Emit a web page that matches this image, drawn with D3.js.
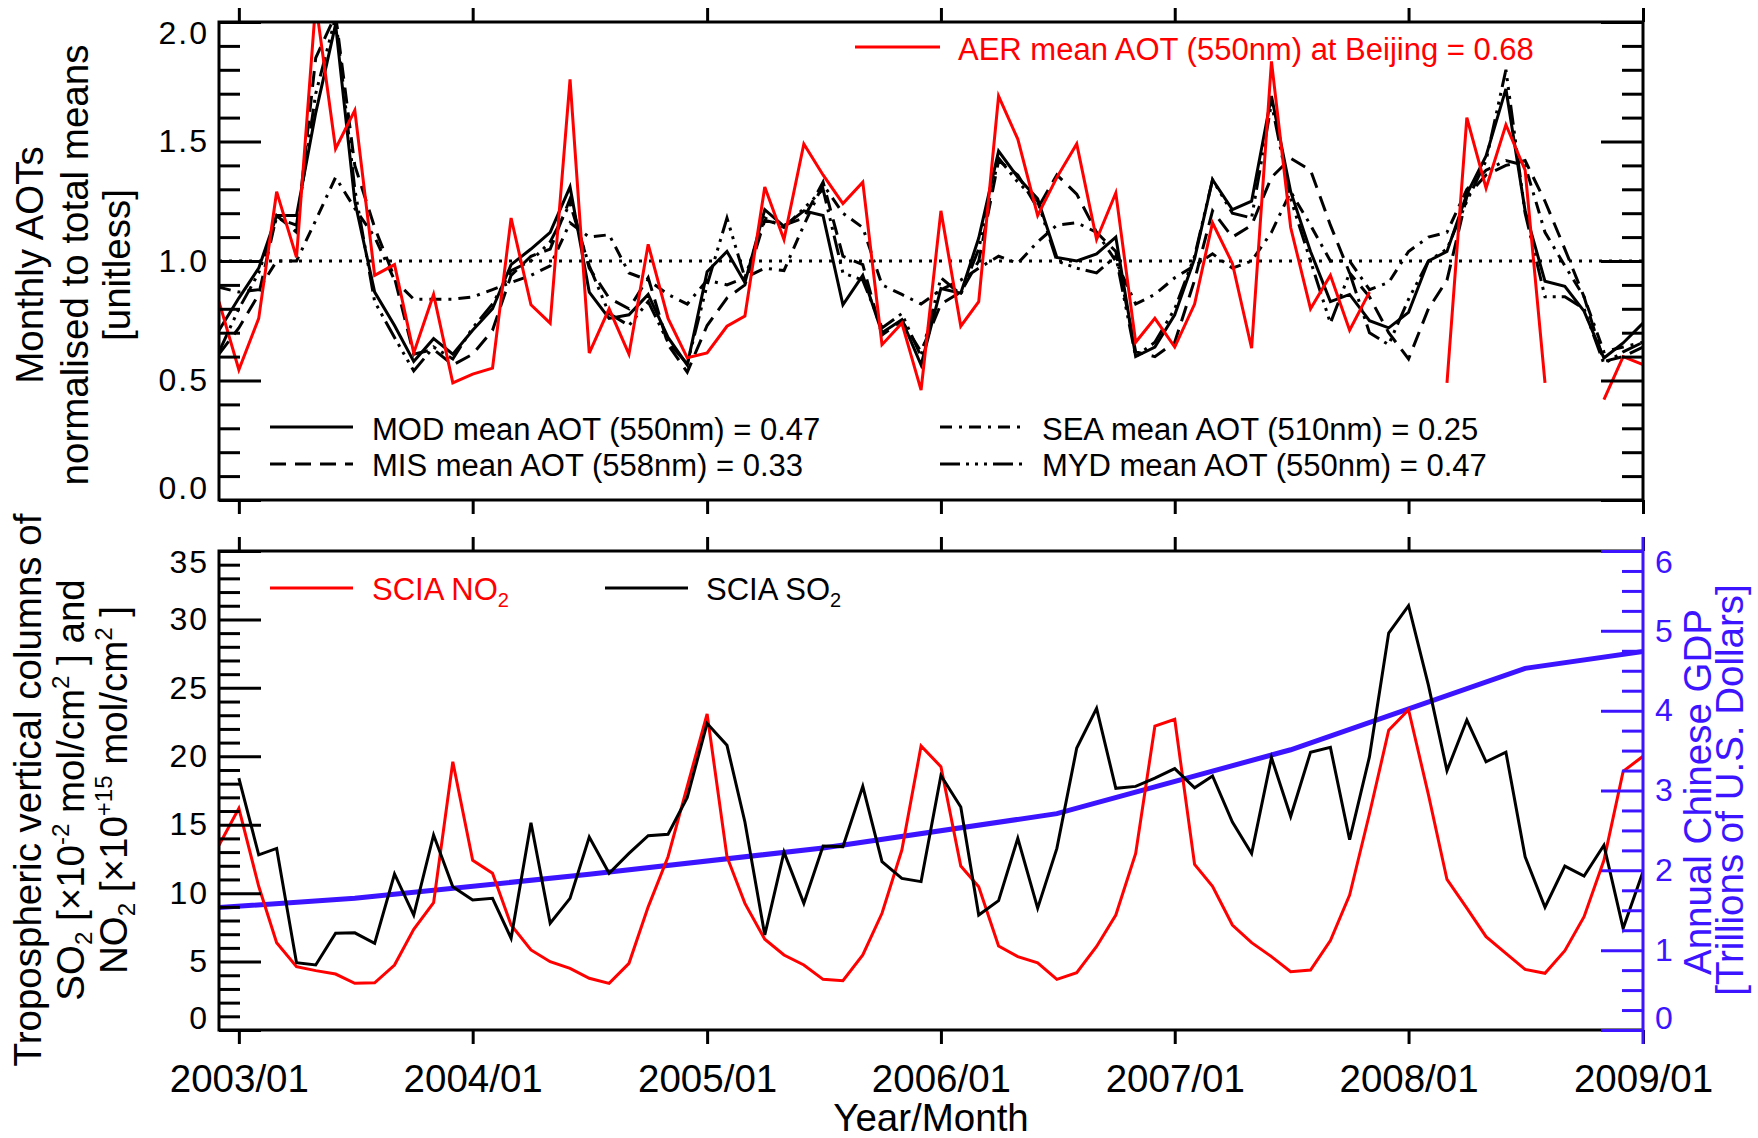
<!DOCTYPE html>
<html>
<head>
<meta charset="utf-8">
<script src="https://cdn.jsdelivr.net/npm/d3@7"></script>
<style>
  body { margin: 0; background: #fff; }
  svg { font-family: "Liberation Sans", Arial, Helvetica, sans-serif; }
</style>
</head>
<body>
<svg width="1758" height="1138"></svg>
<script>
// monthly values, 2002/12 .. 2009/01 (74 months)
let months = d3.timeMonth.range(new Date(2002, 11, 1), new Date(2009, 1, 1));

// top panel: monthly AOT normalised to the total mean
let modAot = [0.71, 0.845, 0.97, 1.19, 1.19, 1.62, 1.99, 1.25, 0.87, 0.73, 0.58, 0.675, 0.61, 0.71, 0.80, 0.985, 1.05, 1.12, 1.31,
  0.87, 0.76, 0.775, 0.86, 0.68, 0.565, 0.955, 1.04, 0.91, 1.215, 1.145, 1.21, 1.19, 0.817, 0.94, 0.70, 0.754, 0.565,
  0.885, 0.865, 1.096, 1.46, 1.35, 1.26, 1.015, 1.00, 1.03, 1.10, 0.60, 0.64, 0.775, 1.01, 1.34, 1.215, 1.25, 1.69,
  1.29, 1.04, 0.83, 0.86, 0.75, 0.72, 0.785, 1.00, 1.04, 1.28, 1.44, 1.72, 1.21, 0.915, 0.894, 0.79, 0.594, 0.657, 0.74];
let misAot = [0.61, 0.72, 0.86, 1.19, 1.12, 1.85, 2.03, 1.40, 1.14, 0.93, 0.61, 0.63, 0.565, 0.61, 0.71, 0.94, 1.02, 1.05, 1.26,
  0.97, 0.845, 0.80, 0.93, 0.65, 0.535, 0.73, 0.845, 0.90, 1.17, 1.15, 1.18, 1.33, 1.02, 0.985, 0.69, 0.75, 0.62,
  0.82, 0.87, 1.00, 1.42, 1.36, 1.22, 1.36, 1.28, 1.12, 1.04, 0.62, 0.60, 0.66, 0.92, 1.21, 1.10, 1.15, 1.35,
  1.43, 1.38, 1.15, 0.95, 0.85, 0.70, 0.59, 0.80, 0.92, 1.27, 1.36, 1.40, 1.42, 1.25, 1.05, 0.85, 0.58, 0.60, 0.64];
let seaAot = [0.89, 0.87, 0.88, 1.00, 1.00, 1.17, 1.35, 1.22, 1.10, 0.92, 0.84, 0.84, 0.84, 0.85, 0.88, 0.91, 0.94, 0.98, 1.16,
  1.10, 1.11, 0.95, 0.92, 0.86, 0.82, 0.92, 0.90, 0.93, 0.97, 0.96, 1.15, 1.32, 1.20, 1.14, 0.90, 0.86, 0.82,
  0.88, 0.92, 0.97, 1.02, 0.99, 1.08, 1.15, 1.16, 1.12, 1.00, 0.82, 0.86, 0.93, 0.98, 1.03, 0.97, 1.00, 1.12,
  1.29, 1.15, 1.00, 1.00, 0.88, 0.91, 1.04, 1.10, 1.12, 1.30, 1.38, 1.42, 1.40, 1.12, 0.98, 0.85, 0.62, 0.64, 0.66];
let mydAot = [0.62, 0.80, 0.95, 1.18, 1.15, 1.70, 2.02, 1.30, 0.83, 0.68, 0.54, 0.64, 0.59, 0.72, 0.82, 0.96, 1.00, 1.08, 1.24,
  0.98, 0.78, 0.73, 0.83, 0.66, 0.57, 0.90, 1.18, 0.93, 1.18, 1.14, 1.22, 1.30, 0.95, 0.92, 0.72, 0.78, 0.60,
  0.93, 0.86, 1.05, 1.43, 1.33, 1.25, 1.00, 0.97, 0.95, 1.02, 0.60, 0.66, 0.80, 1.02, 1.34, 1.20, 1.18, 1.66,
  1.26, 1.00, 0.74, 0.95, 0.70, 0.65, 0.84, 1.00, 1.05, 1.25, 1.42, 1.80, 1.20, 0.85, 0.85, 0.80, 0.57, 0.62, 0.66];
let aerAot = [0.83, 0.545, 0.76, 1.29, 1.015, 2.08, 1.47, 1.63, 0.94, 0.985, 0.615, 0.86, 0.49, 0.527, 0.552, 1.18, 0.817, 0.74, 1.76,
  0.615, 0.80, 0.61, 1.07, 0.76, 0.595, 0.615, 0.727, 0.77, 1.31, 1.09, 1.49, 1.36, 1.24, 1.33, 0.65, 0.74, 0.46,
  1.21, 0.727, 0.83, 1.69, 1.51, 1.19, 1.35, 1.49, 1.09, 1.285, 0.66, 0.76, 0.64, 0.82, 1.16, 0.99, 0.635, 1.835,
  1.14, 0.80, 0.94, 0.71, 0.87, null, null, null, 0.49, 1.60, 1.305, 1.57, 1.38, 0.49, null, null, 0.42, 0.60, 0.566];

// bottom panel: SCIAMACHY columns
let sciaNo2 = [13.5, 16.2, 10.5, 6.38, 4.63, 4.34, 4.09, 3.41, 3.45, 4.75, 7.36, 9.3, 19.6, 12.4, 11.45, 7.67, 5.85, 4.99, 4.5,
  3.78, 3.41, 4.87, 9.0, 12.66, 17.8, 23.1, 12.66, 9.25, 6.63, 5.48, 4.75, 3.7, 3.6, 5.48, 8.53, 13.15, 20.75,
  19.24, 11.98, 10.47, 6.14, 5.36, 4.9, 3.7, 4.19, 6.1, 8.4, 12.9, 22.2, 22.7, 12.1, 10.5, 7.67, 6.38, 5.36,
  4.26, 4.38, 6.53, 9.86, 15.8, 21.9, 23.4, 17.2, 11.0, 8.9, 6.82, 5.6, 4.43, 4.14, 5.8, 8.28, 12.4, 18.9, 20.0];
let sciaSo2 = [null, 18.4, 12.8, 13.27, 4.92, 4.75, 7.07, 7.1, 6.33, 11.4, 8.4, 14.25, 10.47, 9.5, 9.62, 6.7, 15.15, 7.8, 9.62,
  14.1, 11.45, 12.9, 14.2, 14.3, 17.0, 22.4, 20.8, 15.2, 6.94, 13.0, 9.25, 13.44, 13.4, 17.8, 12.3, 11.08, 10.84,
  18.6, 16.3, 8.4, 9.45, 14.0, 8.9, 13.27, 20.6, 23.5, 17.66, 17.8, 18.4, 19.1, 17.7, 18.56, 15.2, 12.9, 19.9,
  15.6, 20.3, 20.65, 13.9, 19.97, 29.0, 31.0, 25.2, 18.95, 22.65, 19.6, 20.3, 12.66, 8.97, 11.98, 11.25, 13.5, 7.43, 11.57];

// annual GDP (trillions of US dollars), placed at mid-year
let gdpYears = [2002, 2003, 2004, 2005, 2006, 2007, 2008, 2009];
let gdpValues = [1.45, 1.65, 1.95, 2.28, 2.71, 3.51, 4.53, 4.95];

let yearTicks = [2003, 2004, 2005, 2006, 2007, 2008, 2009];

let svg = d3.select("svg");
let left = 219, right = 1643;
let top1 = 22, bottom1 = 500, top2 = 551, bottom2 = 1030;
let blue = "#3c14ff";
let font = '"Liberation Sans", Arial, Helvetica, sans-serif';

let x = d3.scaleTime()
    .domain([new Date(2002, 11, 1), new Date(2009, 0, 1)])
    .range([left, right]);
let yAot = d3.scaleLinear().domain([0, 2]).range([bottom1, top1]);
let yCol = d3.scaleLinear().domain([0, 35]).range([bottom2, top2]);
let yGdp = d3.scaleLinear().domain([0, 6]).range([bottom2, top2]);

let defs = svg.append("defs");
defs.append("clipPath").attr("id", "clipTop")
    .append("rect").attr("x", left).attr("y", top1).attr("width", right - left).attr("height", bottom1 - top1);
defs.append("clipPath").attr("id", "clipBot")
    .append("rect").attr("x", left).attr("y", top2).attr("width", right - left).attr("height", bottom2 - top2);

// ---- lines ----
function drawLine(values, dates, yScale, clip, color, width, dash) {
  let pts = values.map((v, i) => [dates[i], v]);
  let line = d3.line()
      .defined(d => d[1] != null)
      .x(d => x(d[0]))
      .y(d => yScale(d[1]));
  svg.append("path")
      .datum(pts)
      .attr("clip-path", "url(#" + clip + ")")
      .attr("d", line)
      .attr("fill", "none")
      .attr("stroke", color)
      .attr("stroke-width", width)
      .attr("stroke-dasharray", dash);
}

let styles = {
  mod: null,
  mis: "16,9",
  sea: "12,7,3,7",
  myd: "20,6,3,6,3,6,3,6"
};

// reference line at 1.0
svg.append("line")
    .attr("x1", left).attr("x2", right)
    .attr("y1", yAot(1)).attr("y2", yAot(1))
    .attr("stroke", "#000").attr("stroke-width", 3)
    .attr("stroke-dasharray", "3,7");

drawLine(seaAot, months, yAot, "clipTop", "#000", 3, styles.sea);
drawLine(misAot, months, yAot, "clipTop", "#000", 3, styles.mis);
drawLine(mydAot, months, yAot, "clipTop", "#000", 3, styles.myd);
drawLine(modAot, months, yAot, "clipTop", "#000", 3, styles.mod);
drawLine(aerAot, months, yAot, "clipTop", "red", 3, null);

let gdpDates = gdpYears.map(y => new Date(y, 6, 1));
drawLine(gdpValues, gdpDates, yGdp, "clipBot", blue, 5, null);
drawLine(sciaNo2, months, yCol, "clipBot", "red", 3, null);
drawLine(sciaSo2, months, yCol, "clipBot", "#000", 3, null);

// ---- axes ----
function minorsOf(lo, hi, step, majorStep) {
  return d3.range(lo, hi + step / 2, step)
      .filter(v => Math.abs(v / majorStep - Math.round(v / majorStep)) > 1e-6);
}

function yAxis(xPos, scale, majors, minors, side, color, fmt) {
  let axisFn = side === "left" ? d3.axisLeft : d3.axisRight;
  let gMin = svg.append("g").attr("transform", "translate(" + xPos + ",0)")
      .call(axisFn(scale).tickValues(minors).tickSize(-21).tickFormat(""));
  let gMaj = svg.append("g").attr("transform", "translate(" + xPos + ",0)")
      .call(axisFn(scale).tickValues(majors).tickSize(-42).tickPadding(side === "left" ? 10 : 12)
        .tickFormat(fmt ? fmt : ""));
  [gMin, gMaj].forEach(g => {
    g.select(".domain").remove();
    g.selectAll("line").attr("stroke", color).attr("stroke-width", 3);
  });
  let lo = majors[0], hi = majors[majors.length - 1];
  gMaj.attr("font-size", 32).attr("font-family", font);
  gMaj.selectAll("text")
      .attr("fill", color)
      .attr("letter-spacing", 2)
      .attr("dy", d => d === hi ? "0.66em" : d === lo ? "-0.06em" : "0.32em");
}

function xAxis(yPos, side, labels) {
  let axisFn = side === "top" ? d3.axisTop : d3.axisBottom;
  let g = svg.append("g").attr("transform", "translate(0," + yPos + ")")
      .call(axisFn(x).tickValues(yearTicks.map(y => new Date(y, 0, 1)))
        .tickSize(14).tickPadding(21)
        .tickFormat(labels ? d3.timeFormat("%Y/%m") : ""));
  g.select(".domain").remove();
  g.selectAll("line").attr("stroke", "#000").attr("stroke-width", 3);
  g.attr("font-size", 38.5).attr("font-family", font);
  g.selectAll("text").attr("fill", "#000");
}

// top panel
yAxis(left, yAot, [0, 0.5, 1, 1.5, 2], minorsOf(0, 2, 0.1, 0.5), "left", "#000", d3.format(".1f"));
yAxis(right, yAot, [0, 0.5, 1, 1.5, 2], minorsOf(0, 2, 0.1, 0.5), "right", "#000", null);
xAxis(top1, "top", false);
xAxis(bottom1, "bottom", false);

// bottom panel
yAxis(left, yCol, d3.range(0, 36, 5), minorsOf(0, 35, 1, 5), "left", "#000", d3.format("d"));
xAxis(top2, "top", false);
xAxis(bottom2, "bottom", true);

// panel frames
svg.append("rect")
    .attr("x", left).attr("y", top1).attr("width", right - left).attr("height", bottom1 - top1)
    .attr("fill", "none").attr("stroke", "#000").attr("stroke-width", 3);
svg.append("path")
    .attr("d", "M" + right + "," + top2 + "H" + left + "V" + bottom2 + "H" + right)
    .attr("fill", "none").attr("stroke", "#000").attr("stroke-width", 3);
svg.append("line")
    .attr("x1", right).attr("x2", right).attr("y1", top2 - 14).attr("y2", bottom2 + 14)
    .attr("stroke", blue).attr("stroke-width", 3);

yAxis(right, yGdp, d3.range(0, 7), minorsOf(0, 6, 0.25, 1), "right", blue, d3.format("d"));

// ---- legends ----
function legendLine(x1, x2, y, color, dash) {
  svg.append("line")
      .attr("x1", x1).attr("x2", x2).attr("y1", y).attr("y2", y)
      .attr("stroke", color).attr("stroke-width", 3)
      .attr("stroke-dasharray", dash);
}
function label(xPos, yPos, text, color, size) {
  return svg.append("text")
      .attr("x", xPos).attr("y", yPos)
      .attr("fill", color)
      .attr("font-size", size || 31)
      .text(text);
}

legendLine(855, 940, 47, "red", null);
label(958, 60, "AER mean AOT (550nm) at Beijing = 0.68", "red");
legendLine(270, 353, 427, "#000", styles.mod);
label(372, 440, "MOD mean AOT (550nm) = 0.47", "#000");
legendLine(270, 353, 464, "#000", styles.mis);
label(372, 476, "MIS mean AOT (558nm) = 0.33", "#000");
legendLine(940, 1023, 427, "#000", styles.sea);
label(1042, 440, "SEA mean AOT (510nm) = 0.25", "#000");
legendLine(940, 1023, 464, "#000", styles.myd);
label(1042, 476, "MYD mean AOT (550nm) = 0.47", "#000");

legendLine(270, 353, 588, "red", null);
let no2 = label(372, 600, "SCIA NO", "red");
no2.append("tspan").attr("font-size", 20).attr("dy", 7).text("2");
legendLine(605, 688, 588, "#000", null);
let so2 = label(706, 600, "SCIA SO", "#000");
so2.append("tspan").attr("font-size", 20).attr("dy", 7).text("2");

// ---- axis titles ----
function rotated(xPos, yPos, color) {
  return svg.append("text")
      .attr("transform", "translate(" + xPos + "," + yPos + ") rotate(-90)")
      .attr("text-anchor", "middle")
      .attr("font-size", 38.5)
      .attr("fill", color);
}

rotated(43, 265, "#000").text("Monthly AOTs");
rotated(88, 265, "#000").text("normalised to total means");
rotated(130, 265, "#000").text("[unitless]");

rotated(41, 790, "#000").text("Tropospheric vertical columns of");
let t2 = rotated(84, 790, "#000");
t2.append("tspan").text("SO");
t2.append("tspan").attr("font-size", 24).attr("dy", 8).text("2");
t2.append("tspan").attr("dy", -8).text(" [×10");
t2.append("tspan").attr("font-size", 24).attr("dy", -15).text("-2");
t2.append("tspan").attr("dy", 15).text(" mol/cm");
t2.append("tspan").attr("font-size", 24).attr("dy", -15).text("2");
t2.append("tspan").attr("dy", 15).text(" ] and");
let t3 = rotated(127, 790, "#000");
t3.append("tspan").text("NO");
t3.append("tspan").attr("font-size", 24).attr("dy", 8).text("2");
t3.append("tspan").attr("dy", -8).text(" [×10");
t3.append("tspan").attr("font-size", 24).attr("dy", -15).text("+15");
t3.append("tspan").attr("dy", 15).text(" mol/cm");
t3.append("tspan").attr("font-size", 24).attr("dy", -15).text("2");
t3.append("tspan").attr("dy", 15).text(" ]");

rotated(1711, 792, blue).text("Annual Chinese GDP");
rotated(1743, 790, blue).text("[Trillions of U.S. Dollars]");

svg.append("text")
    .attr("x", (left + right) / 2).attr("y", 1131)
    .attr("text-anchor", "middle")
    .attr("font-size", 38.5)
    .text("Year/Month");
</script>
</body>
</html>
